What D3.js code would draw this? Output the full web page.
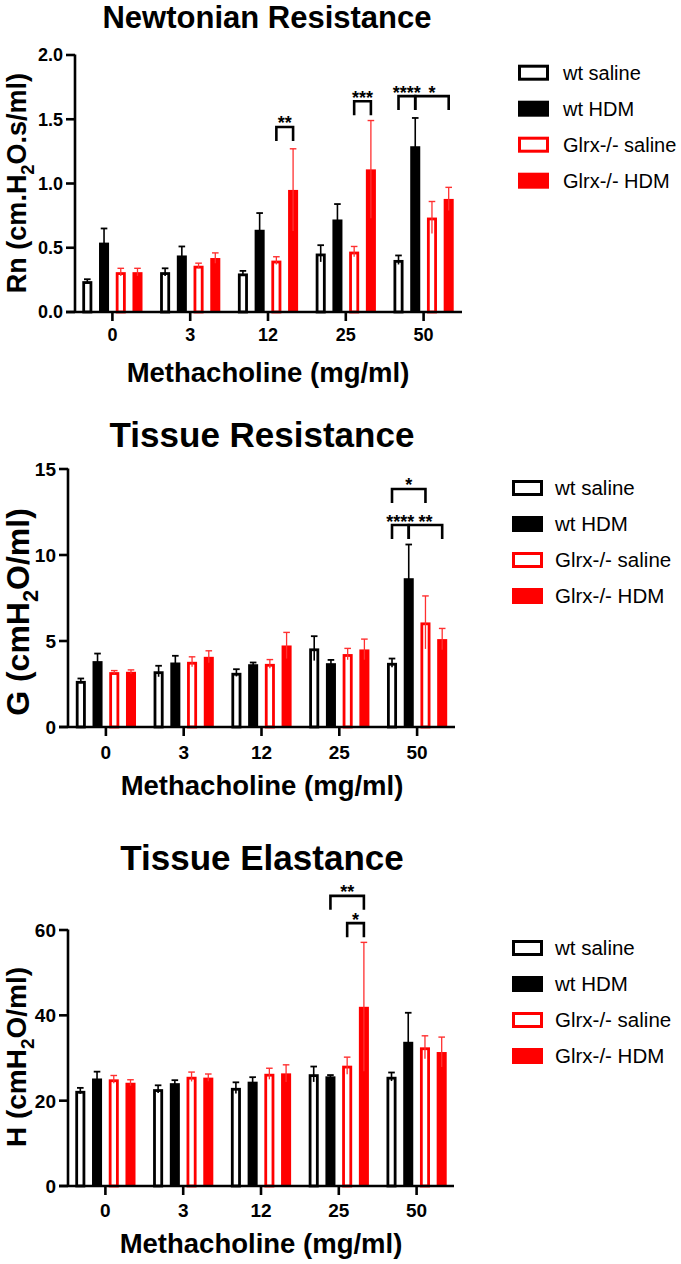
<!DOCTYPE html>
<html><head><meta charset="utf-8">
<script src="https://cdn.jsdelivr.net/npm/d3@7"></script>
<style>
html,body{margin:0;padding:0;background:#fff;}
svg{display:block;font-family:"Liberation Sans",Arial,Helvetica,sans-serif;}
</style></head>
<body><svg id="chart" width="681" height="1264"></svg>
<script>
// ---------- DATA ----------
const doses = ["0", "3", "12", "25", "50"];
const seriesNames = ["wt saline", "wt HDM", "Glrx-/- saline", "Glrx-/- HDM"];
const seriesColors = ["#000000", "#000000", "#ff0000", "#ff0000"];
const seriesHollow = [true, false, true, false];

// Newtonian resistance Rn (rows = series, columns = doses)
const rnMeans = [
  [0.24, 0.31, 0.30, 0.455, 0.405],
  [0.54, 0.44, 0.64, 0.72, 1.29],
  [0.31, 0.36, 0.40, 0.47, 0.735],
  [0.31, 0.42, 0.95, 1.11, 0.88]
];
const rnErrs = [
  [0.015, 0.03, 0.02, 0.065, 0.035],
  [0.11, 0.07, 0.13, 0.12, 0.22],
  [0.03, 0.02, 0.03, 0.04, 0.125],
  [0.03, 0.04, 0.32, 0.38, 0.09]
];
const rnTicks = [0, 0.5, 1.0, 1.5, 2.0];
const rnSig = [
  {dose: "12", from: 2, to: 3, y: 1.44, label: "**"},
  {dose: "25", from: 2, to: 3, y: 1.64, label: "***"},
  {dose: "50", from: 0, to: 1, y: 1.68, label: "****"},
  {dose: "50", from: 1, to: 3, y: 1.68, label: "*"}
];

// Tissue resistance G
const gMeans = [
  [2.68, 3.24, 3.15, 4.57, 3.73],
  [3.83, 3.75, 3.65, 3.71, 8.65],
  [3.19, 3.79, 3.67, 4.24, 6.08],
  [3.21, 4.08, 4.74, 4.51, 5.11]
];
const gErrs = [
  [0.14, 0.32, 0.21, 0.71, 0.25],
  [0.44, 0.39, 0.10, 0.19, 1.96],
  [0.09, 0.29, 0.25, 0.33, 1.54],
  [0.11, 0.35, 0.76, 0.60, 0.62]
];
const gTicks = [0, 5, 10, 15];
const gSig = [
  {dose: "50", from: 0, to: 2, y: 13.84, label: "*"},
  {dose: "50", from: 0, to: 1, y: 11.74, label: "****"},
  {dose: "50", from: 1, to: 3, y: 11.74, label: "**"}
];

// Tissue elastance H
const hMeans = [
  [22.3, 22.7, 23.0, 26.2, 25.6],
  [25.2, 24.1, 24.45, 25.7, 33.8],
  [25.0, 25.6, 26.3, 28.2, 32.5],
  [24.2, 25.4, 26.4, 42.0, 31.4]
];
const hErrs = [
  [0.7, 0.9, 1.3, 1.8, 1.0],
  [1.6, 0.7, 1.05, 0.3, 6.8],
  [0.9, 1.1, 1.3, 2.0, 2.7],
  [0.7, 0.85, 2.0, 15.1, 3.5]
];
const hTicks = [0, 20, 40, 60];
const hSig = [
  {dose: "25", from: 1, to: 3, y: 68.0, label: "**"},
  {dose: "25", from: 2, to: 3, y: 61.6, label: "*"}
];

// ---------- LAYOUT ----------
const panels = [
  {title: "Newtonian Resistance", titleX: 267, titleY: 28, titleSize: 31,
   yLabel: ["Rn (cm.H", "2", "O.s/ml)"], yLabelX: 26, yLabelY: 183, yLabelSize: 27,
   means: rnMeans, errs: rnErrs, ticks: rnTicks, fmt: d3.format(".1f"), domain: [0, 2],
   sig: rnSig, axisX: 75, band: [73.5, 462.5], xEnd: 462, yRange: [312, 55],
   tickSize: 18, xTickY: 341, xTitleY: 382, xTitleX: 268,
   legX: 518, legY: 72.7, legTextX: 563, legSize: 20},
  {title: "Tissue Resistance", titleX: 262, titleY: 447, titleSize: 35,
   yLabel: ["G (cmH", "2", "O/ml)"], yLabelX: 29, yLabelY: 612, yLabelSize: 32,
   means: gMeans, errs: gErrs, ticks: gTicks, fmt: d3.format("d"), domain: [0, 15],
   sig: gSig, axisX: 68, band: [67, 456], xEnd: 455, yRange: [727, 469],
   tickSize: 19, xTickY: 759, xTitleY: 795, xTitleX: 262,
   legX: 512, legY: 488, legTextX: 555, legSize: 20.5},
  {title: "Tissue Elastance", titleX: 262, titleY: 870, titleSize: 35,
   yLabel: ["H (cmH", "2", "O/ml)"], yLabelX: 26, yLabelY: 1057, yLabelSize: 28,
   means: hMeans, errs: hErrs, ticks: hTicks, fmt: d3.format("d"), domain: [0, 60],
   sig: hSig, axisX: 68, band: [66.5, 455.5], xEnd: 454, yRange: [1186, 930],
   tickSize: 19, xTickY: 1217, xTitleY: 1253, xTitleX: 261,
   legX: 512, legY: 948, legTextX: 555, legSize: 20.5}
];

const svg = d3.select("#chart");
const AXW = 2.6;

panels.forEach(p => {
  const g = svg.append("g");
  const x = d3.scaleBand().domain(doses).range(p.band).paddingInner(0).paddingOuter(0);
  const step = x.step();
  const barPitch = step * 0.215;
  const inner = d3.scaleBand().domain(d3.range(4))
    .range([step / 2 - 2 * barPitch, step / 2 + 2 * barPitch])
    .paddingInner(0.4).paddingOuter(0.2);
  const y = d3.scaleLinear().domain(p.domain).range(p.yRange);
  const bw = inner.bandwidth();
  const cx = (dose, s) => x(dose) + inner(s) + bw / 2;

  // bars
  p.means.forEach((vals, s) => {
    const col = seriesColors[s];
    const sw = 2.8;
    vals.forEach((v, i) => {
      const dose = doses[i];
      const x0 = x(dose) + inner(s);
      if (seriesHollow[s]) {
        g.append("rect").attr("x", x0 + sw / 2).attr("y", y(v) + sw / 2)
          .attr("width", bw - sw).attr("height", y(0) - y(v) - sw / 2)
          .attr("fill", "#fff").attr("stroke", col).attr("stroke-width", sw);
      } else {
        g.append("rect").attr("x", x0).attr("y", y(v))
          .attr("width", bw).attr("height", y(0) - y(v)).attr("fill", col);
      }
      // error bar
      const e = p.errs[s][i];
      const c = cx(dose, s);
      const ecol = s >= 2 ? "#ff3030" : "#000";
      g.append("line").attr("x1", c).attr("x2", c)
        .attr("y1", y(Math.max(0, v - e))).attr("y2", y(v + e))
        .attr("stroke", ecol).attr("stroke-width", s >= 2 ? 1.3 : 1.6);
      g.append("line").attr("x1", c - 3.3).attr("x2", c + 3.3)
        .attr("y1", y(v + e)).attr("y2", y(v + e))
        .attr("stroke", ecol).attr("stroke-width", s >= 2 ? 1.4 : 1.8);
    });
  });

  // axes
  g.append("line").attr("x1", p.axisX).attr("x2", p.axisX)
    .attr("y1", y(0)).attr("y2", y(p.domain[1]) - 0.5)
    .attr("stroke", "#000").attr("stroke-width", AXW);
  g.append("line").attr("x1", p.axisX - 9).attr("x2", p.xEnd)
    .attr("y1", y(0)).attr("y2", y(0))
    .attr("stroke", "#000").attr("stroke-width", AXW);
  p.ticks.forEach(t => {
    g.append("line").attr("x1", p.axisX - 9).attr("x2", p.axisX)
      .attr("y1", y(t)).attr("y2", y(t)).attr("stroke", "#000").attr("stroke-width", AXW);
    g.append("text").attr("x", p.axisX - 12).attr("y", y(t) + p.tickSize * 0.36)
      .attr("text-anchor", "end").attr("font-size", p.tickSize).attr("font-weight", "bold")
      .text(p.fmt(t));
  });
  doses.forEach(d => {
    const c = x(d) + step / 2;
    g.append("line").attr("x1", c).attr("x2", c).attr("y1", y(0)).attr("y2", y(0) + 9)
      .attr("stroke", "#000").attr("stroke-width", AXW);
    g.append("text").attr("x", c).attr("y", p.xTickY).attr("text-anchor", "middle")
      .attr("font-size", p.tickSize).attr("font-weight", "bold").text(d);
  });

  // significance brackets
  p.sig.forEach(sg => {
    const xa = cx(sg.dose, sg.from), xb = cx(sg.dose, sg.to);
    const yy = y(sg.y);
    g.append("path").attr("d", `M${xa},${yy + 14}V${yy}H${xb}V${yy + 14}`)
      .attr("fill", "none").attr("stroke", "#000").attr("stroke-width", 2.6);
    g.append("text").attr("x", (xa + xb) / 2).attr("y", yy + 2.5)
      .attr("text-anchor", "middle").attr("font-size", 18).attr("font-weight", "bold")
      .text(sg.label);
  });

  // titles
  g.append("text").attr("x", p.titleX).attr("y", p.titleY).attr("text-anchor", "middle")
    .attr("font-size", p.titleSize).attr("font-weight", "bold").text(p.title);
  g.append("text").attr("x", p.xTitleX).attr("y", p.xTitleY).attr("text-anchor", "middle")
    .attr("font-size", 27.5).attr("font-weight", "bold").text("Methacholine (mg/ml)");
  const yl = g.append("text").attr("transform", `translate(${p.yLabelX},${p.yLabelY}) rotate(-90)`)
    .attr("text-anchor", "middle").attr("font-size", p.yLabelSize).attr("font-weight", "bold");
  yl.append("tspan").text(p.yLabel[0]);
  yl.append("tspan").attr("font-size", p.yLabelSize * 0.68).attr("dy", p.yLabelSize * 0.28).text(p.yLabel[1]);
  yl.append("tspan").attr("dy", -p.yLabelSize * 0.28).text(p.yLabel[2]);

  // legend
  seriesNames.forEach((nm, s) => {
    const cy = p.legY + s * 36;
    const col = seriesColors[s];
    if (seriesHollow[s]) {
      g.append("rect").attr("x", p.legX + 1.5).attr("y", cy - 8 + 1.5).attr("width", 28).attr("height", 13)
        .attr("fill", "#fff").attr("stroke", col).attr("stroke-width", 3);
    } else {
      g.append("rect").attr("x", p.legX).attr("y", cy - 8).attr("width", 31).attr("height", 16).attr("fill", col);
    }
    g.append("text").attr("x", p.legTextX).attr("y", cy + p.legSize * 0.36)
      .attr("font-size", p.legSize).attr("fill", "#000").text(nm);
  });
});
</script></body></html>
